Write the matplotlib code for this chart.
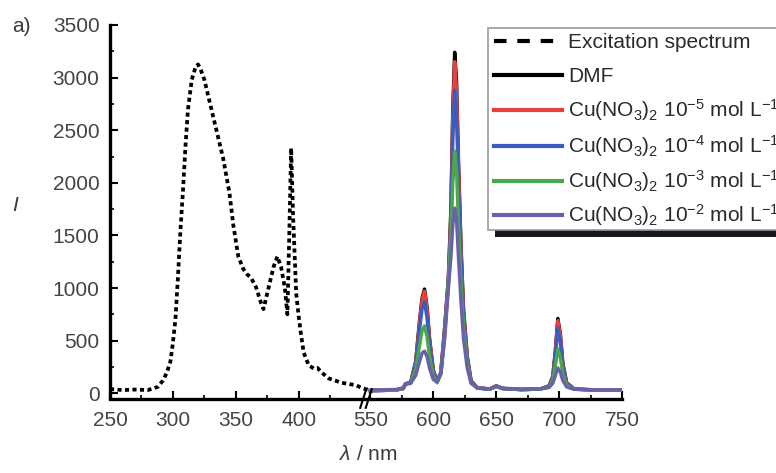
import matplotlib
matplotlib.use("Agg")
import matplotlib.pyplot as plt
import numpy as np
from matplotlib.patches import Rectangle
from matplotlib.lines import Line2D
from matplotlib.ticker import FixedLocator

plt.rcParams['font.family'] = ['Liberation Sans', 'DejaVu Sans']
plt.rcParams['mathtext.fontset'] = 'custom'
plt.rcParams['mathtext.rm'] = 'Liberation Sans'
plt.rcParams['mathtext.it'] = 'Liberation Sans:italic'
plt.rcParams['mathtext.bf'] = 'Liberation Sans:bold'

# excitation spectrum
exc_wl = [250, 260, 270, 280, 288, 292, 295, 298, 300, 302, 304, 306, 308, 310,
          312, 315, 318, 320, 322, 325, 330, 335, 340, 345, 348, 352, 356, 359,
          362, 366, 370, 372, 376, 380, 383, 386, 389, 391, 392.5, 394, 395.5,
          398, 400, 402, 404, 408, 412, 415, 418, 424, 434, 446, 450, 552]
exc_I = [40, 30, 35, 30, 60, 120, 190, 300, 480, 700, 1100, 1550, 1920, 2350,
         2700, 2980, 3100, 3125, 3080, 2980, 2730, 2480, 2230, 1900, 1600, 1300,
         1180, 1130, 1100, 1010, 860, 800, 1000, 1200, 1300, 1200, 1000, 750,
         1500, 2330, 1700, 950, 730, 545, 385, 265, 235, 240, 200, 140, 100, 75,
         50, 20]

# emission spectra
em_wl = [550, 570, 576, 578, 582, 586, 589, 591, 593, 595, 597, 600, 603, 606,
         609, 612, 614, 615.5, 617, 618.5, 620, 622, 624, 627, 630, 635, 645,
         650, 655, 670, 685, 692, 695, 697, 699, 701, 703, 706, 712, 730, 750]
dmf = [25, 30, 45, 90, 100, 300, 680, 900, 990, 820, 520, 220, 110, 200, 620,
       1100, 1750, 2700, 3240, 2950, 2200, 1400, 800, 350, 120, 50, 40, 70, 45,
       35, 40, 70, 160, 400, 710, 560, 280, 100, 40, 30, 30]
cu_5 = [25, 30, 45, 90, 100, 290, 660, 880, 970, 800, 510, 215, 110, 200, 610,
        1080, 1700, 2620, 3150, 2870, 2150, 1370, 780, 340, 115, 50, 40, 70, 45,
        35, 40, 68, 155, 390, 690, 545, 270, 98, 40, 30, 30]
cu_4 = [25, 30, 45, 90, 100, 270, 600, 800, 870, 720, 460, 200, 105, 190, 580,
        1050, 1600, 2420, 2880, 2630, 1980, 1270, 730, 320, 110, 50, 40, 68, 45,
        35, 40, 65, 145, 350, 620, 490, 245, 90, 40, 30, 30]
cu_3 = [25, 30, 45, 85, 95, 220, 450, 590, 640, 540, 350, 160, 100, 180, 540,
        1060, 1500, 2000, 2300, 2120, 1620, 1050, 620, 280, 100, 48, 40, 65, 45,
        35, 40, 58, 120, 260, 420, 340, 180, 75, 38, 30, 30]
cu_2 = [30, 35, 50, 90, 95, 170, 300, 380, 400, 350, 240, 130, 110, 190, 520,
        1000, 1300, 1600, 1760, 1650, 1300, 880, 520, 240, 95, 50, 42, 65, 48,
        38, 42, 55, 95, 170, 240, 200, 120, 60, 38, 32, 32]

labels = ["Excitation spectrum", "DMF",
          "Cu(NO$_3$)$_2$ 10$^{-5}$ mol L$^{-1}$",
          "Cu(NO$_3$)$_2$ 10$^{-4}$ mol L$^{-1}$",
          "Cu(NO$_3$)$_2$ 10$^{-3}$ mol L$^{-1}$",
          "Cu(NO$_3$)$_2$ 10$^{-2}$ mol L$^{-1}$"]
colors = ['black', 'black', '#e8413b', '#3a5cc0', '#4aa84c', '#6a62a8']
left_ticks = [250, 300, 350, 400]
right_ticks = [550, 600, 650, 700, 750]

# broken axis: 450..550 squeezed into a small gap
GAP = 7
def to_u(x):
    x = np.asarray(x, dtype=float)
    return np.where(x <= 450, x, x - 100 + GAP)

W, H = 776, 473
fig = plt.figure(figsize=(W / 100, H / 100), dpi=100)
ax = fig.add_axes([110 / W, (H - 398.5) / H, 512 / W, 373.5 / H])

ax.plot(to_u(exc_wl), exc_I, color='black', lw=2.7, dashes=(1.1, 0.9))
series = [dmf, cu_5, cu_4, cu_3, cu_2]
for vals, c in zip(series, colors[1:]):
    ax.plot(to_u(em_wl), vals, color=c, lw=2.5, solid_joinstyle='round')

ax.set_xlim(250, 750 - 100 + GAP)
ax.set_ylim(-50, 3500)

xt = left_ticks + right_ticks
ax.set_xticks(to_u(xt))
ax.set_xticklabels([str(t) for t in xt])
minor_x = [t + 25 for t in left_ticks] + [t + 25 for t in right_ticks[:-1]]
ax.xaxis.set_minor_locator(FixedLocator(to_u(minor_x)))
ax.set_yticks(np.arange(0, 3501, 500))
ax.yaxis.set_minor_locator(FixedLocator(np.arange(250, 3500, 500)))

for s in ['top', 'right']:
    ax.spines[s].set_visible(False)
for s in ['left', 'bottom']:
    ax.spines[s].set_linewidth(2.4)
ax.tick_params(which='major', direction='in', length=6, width=1.5,
               labelsize=15, labelcolor='#444444')
ax.tick_params(which='minor', direction='in', length=3, width=1.2)
ax.tick_params(axis='y', pad=7.5)
ax.tick_params(axis='x', pad=9)

# axis break marks
bu = (450 + 550 - 100 + GAP) / 2
for off in (-2.2, 2.2):
    ax.plot([bu + off - 2.4, bu + off + 2.4], [-0.025, 0.025], color='black',
            lw=1.5, transform=ax.get_xaxis_transform(), clip_on=False)

ax.set_xlabel(r'$\lambda$ / nm', fontsize=15, color='#3a3a3a')
ax.xaxis.set_label_coords(0.504, -0.151)
ax.xaxis.label.set_va('center')
ax.set_ylabel('I', fontsize=15, style='italic', rotation=0, color='#3a3a3a')
ax.yaxis.set_label_coords(-0.1855, 0.518)
ax.yaxis.label.set_va('center')

fig.text(12 / W, 1 - 27 / H, 'a)', fontsize=15, color='#3a3a3a',
         ha='left', va='center')

# legend drawn by hand (it runs off the right edge, as in the source)
fx = lambda px: px / W
fy = lambda py: 1 - py / H
fig.add_artist(Rectangle((fx(495), fy(237)), fx(900) - fx(495), (237 - 35) / H,
                         transform=fig.transFigure, facecolor='#16161f',
                         edgecolor='none', zorder=2.9))
fig.add_artist(Rectangle((fx(488), fy(230)), fx(900) - fx(488), (230 - 28) / H,
                         transform=fig.transFigure, facecolor='white',
                         edgecolor='#9a9a9a', lw=1.2, zorder=3))
baselines = [48, 82, 117, 153, 188, 222]
for i, (lab, c, b) in enumerate(zip(labels, colors, baselines)):
    kw = dict(dashes=(3, 2.6)) if i == 0 else {}
    fig.add_artist(Line2D([fx(494), fx(562)], [fy(b - 7), fy(b - 7)],
                          transform=fig.transFigure, color=c, lw=3,
                          zorder=3.1, **kw))
    fig.text(fx(568), fy(b), lab, fontsize=15, color='#2a2a2a',
             ha='left', va='baseline', zorder=3.2)

fig.savefig('out.png', dpi=100)
